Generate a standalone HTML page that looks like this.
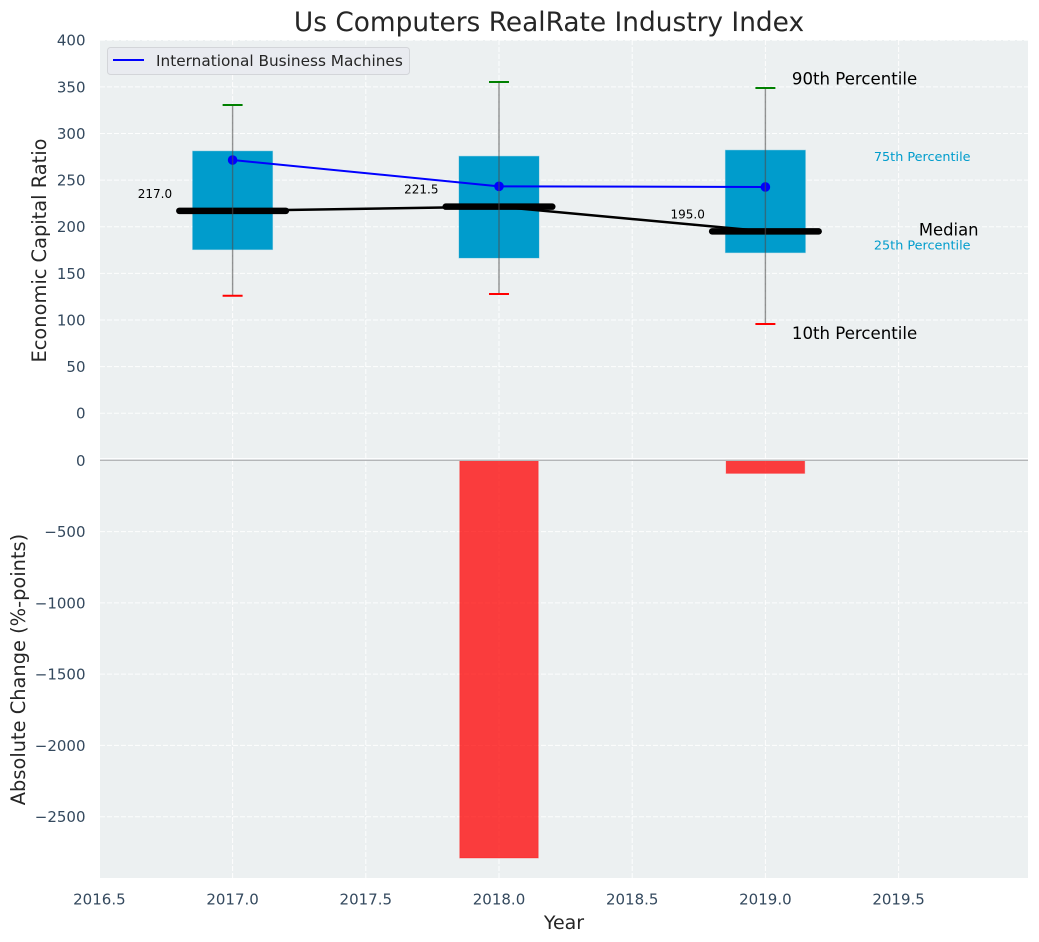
<!DOCTYPE html>
<html>
<head>
<meta charset="utf-8">
<title>Us Computers RealRate Industry Index</title>
<style>
html,body{margin:0;padding:0;background:#fff;width:1039px;height:942px;overflow:hidden}
svg{display:block;font-family:"DejaVu Sans","Liberation Sans",sans-serif}
</style>
</head>
<body>
<svg id="chart" width="1039" height="942" viewBox="0 0 1039 942" xmlns="http://www.w3.org/2000/svg">
<rect x="0" y="0" width="1039" height="942" fill="#ffffff"/>
<rect x="100" y="40" width="928" height="420" fill="#ecf0f1"/>
<rect x="100" y="460" width="928" height="418" fill="#ecf0f1"/>
<text x="549" y="31" text-anchor="middle" font-size="26.4" fill="#262626">Us Computers RealRate Industry Index</text>
<text transform="translate(46,250.5) rotate(-90)" text-anchor="middle" font-size="19.4" fill="#262626">Economic Capital Ratio</text>
<text transform="translate(25,669.5) rotate(-90)" text-anchor="middle" font-size="19.4" fill="#262626">Absolute Change (%-points)</text>
<text x="564" y="929" text-anchor="middle" font-size="19" fill="#262626">Year</text>
<g id="grid"></g>
<g id="ticks"></g>
<g id="marks"></g>
<g id="notes"></g>
<g>
<rect x="107.5" y="47.5" width="302" height="27" rx="3" fill="#e9ebf0" stroke="#d3d5d9" stroke-width="1"/>
<line x1="113" y1="60" x2="144" y2="60" stroke="#0000ff" stroke-width="2"/>
<text x="156" y="66" font-size="15.3" fill="#262626">International Business Machines</text>
</g>
</svg>
<script>
var years = [2017, 2018, 2019];
var p90 = [330.5, 355.2, 348.7];
var p75 = [281, 275.5, 282];
var medians = [217, 221.5, 195];
var p25 = [175.5, 166.5, 172.2];
var p10 = [125.9, 127.8, 95.7];
var ibm = [271.5, 243.3, 242.6];
var changes = [0, -2790, -92];
var xTicks = [2016.5, 2017, 2017.5, 2018, 2018.5, 2019, 2019.5];
var upperTicks = [0, 50, 100, 150, 200, 250, 300, 350, 400];
var lowerTicks = [0, -500, -1000, -1500, -2000, -2500];
var boxWidthYears = 0.3;
var medianWidthYears = 0.4;
var capWidthYears = 0.075;
var barWidthYears = 0.295;

function sx(v){ return 232.6 + (v - 2017) * 266.4; }
function sy(v){ return 413.2 - v * 0.9325; }
function ly(v){ return 460.3 - v * 0.14256; }

var NS = 'http://www.w3.org/2000/svg';
function make(tag, parent, props){
  var el = document.createElementNS(NS, tag);
  for (var k in props) el.setAttribute(k, props[k]);
  parent.appendChild(el);
  return el;
}
var gridG = document.getElementById('grid');
var ticksG = document.getElementById('ticks');
var marksG = document.getElementById('marks');
var notesG = document.getElementById('notes');
var tickColor = '#34495e';
var gridStyle = {stroke:'#ffffff','stroke-width':1,'stroke-dasharray':'5,2','stroke-opacity':0.9};

function gridLine(x1,y1,x2,y2){
  var p = {x1:x1,y1:y1,x2:x2,y2:y2};
  for (var k in gridStyle) p[k] = gridStyle[k];
  return make('line', gridG, p);
}

xTicks.forEach(function(t){
  var x = sx(t);
  if (x >= 100) {
    var g = gridLine(x,40,x,878);
    
    
  }
  var l = make('text', ticksG, {x:x,y:904.5,'text-anchor':'middle','font-size':15,fill:tickColor});
  l.textContent = t.toFixed(1);
  
  
});
upperTicks.forEach(function(t){
  var y = sy(t);
  var g = gridLine(100,y,1028,y);
  
  
  var l = make('text', ticksG, {x:85.5,y:y+5.5,'text-anchor':'end','font-size':15,fill:tickColor});
  l.textContent = String(t);
  
  
});
lowerTicks.forEach(function(t){
  var y = ly(t);
  if (t !== 0) {
    var g = gridLine(100,y,1028,y);
    
    
  }
  var l = make('text', ticksG, {x:85.5,y:y+5.5,'text-anchor':'end','font-size':15,fill:tickColor});
  l.textContent = String(t).replace('-', '\u2212');
  
  
});

years.forEach(function(yr,i){
  var x = sx(yr);
  var halfBox = boxWidthYears * 266.4 / 2;
  var box = make('rect', marksG, {x:x-halfBox,y:sy(p75[i]),width:halfBox*2,height:sy(p25[i])-sy(p75[i]),fill:'#009ccc',stroke:'#009ccc','stroke-width':1,'stroke-opacity':0.35});
  
  
  var halfBar = barWidthYears * 266.4 / 2;
  if (changes[i] !== 0) {
    var bar = make('rect', marksG, {x:x-halfBar,y:ly(0),width:halfBar*2,height:ly(changes[i])-ly(0),fill:'#ff0000','fill-opacity':0.75,stroke:'#ff0000','stroke-width':1,'stroke-opacity':0.25});
    
    
  }
});

var divider = make('line', marksG, {x1:100,y1:458.7,x2:1028,y2:458.7,stroke:'#ffffff','stroke-width':1.2});


var zero = make('line', marksG, {x1:100,y1:ly(0),x2:1028,y2:ly(0),stroke:'#b4b6b8','stroke-width':1.3});



var medianPts = years.map(function(yr,i){ return sx(yr)+','+sy(medians[i]); }).join(' ');
var medianLine = make('polyline', marksG, {points:medianPts,fill:'none',stroke:'#000000','stroke-width':2.5});



var ibmPts = years.map(function(yr,i){ return sx(yr)+','+sy(ibm[i]); }).join(' ');
var ibmLine = make('polyline', marksG, {points:ibmPts,fill:'none',stroke:'#0000ff','stroke-width':2});



years.forEach(function(yr,i){
  var x = sx(yr);
  var dot = make('circle', marksG, {cx:x,cy:sy(ibm[i]),r:4.8,fill:'#0000ff'});
  
  
  var halfMed = medianWidthYears * 266.4 / 2;
  var med = make('line', marksG, {x1:x-halfMed,y1:sy(medians[i]),x2:x+halfMed,y2:sy(medians[i]),stroke:'#000000','stroke-width':6.5,'stroke-linecap':'round'});
  
  
  var w = make('line', marksG, {x1:x,y1:sy(p90[i]),x2:x,y2:sy(p10[i]),stroke:'#4d4d4d','stroke-width':1.4,'stroke-opacity':0.6});
  
  
  var halfCap = capWidthYears * 266.4 / 2;
  var top = make('line', marksG, {x1:x-halfCap,y1:sy(p90[i]),x2:x+halfCap,y2:sy(p90[i]),stroke:'#008000','stroke-width':2});
  
  
  var low = make('line', marksG, {x1:x-halfCap,y1:sy(p10[i]),x2:x+halfCap,y2:sy(p10[i]),stroke:'#ff0000','stroke-width':2});
  
  
  var mv = make('text', notesG, {x:x-77.7,y:sy(medians[i])-13,'text-anchor':'middle','font-size':12,fill:'#000000'});
  mv.textContent = medians[i].toFixed(1);
  
  
});

var last = years.length - 1;
var lastX = sx(years[last]);
function note(txt,x,y,size,color){
  return make('text', notesG, {x:x,y:y,'font-size':size,fill:color,'dominant-baseline':'central'});
}
var n90 = note('', lastX+26.5, sy(p90[last])-8.8, 16.6, '#000000');
n90.textContent = '90th Percentile';


var n10 = note('', lastX+26.5, sy(p10[last])+9.7, 16.6, '#000000');
n10.textContent = '10th Percentile';


var n75 = note('', lastX+108.5, sy(p75[last])+7.3, 12.8, '#009ccc');
n75.textContent = '75th Percentile';


var n25 = note('', lastX+108.5, sy(p25[last])-6.6, 12.8, '#009ccc');
n25.textContent = '25th Percentile';


var nm = note('', lastX+153.5, sy(medians[last])-1.2, 16.4, '#000000');
nm.textContent = 'Median';


</script>
</body>
</html>
